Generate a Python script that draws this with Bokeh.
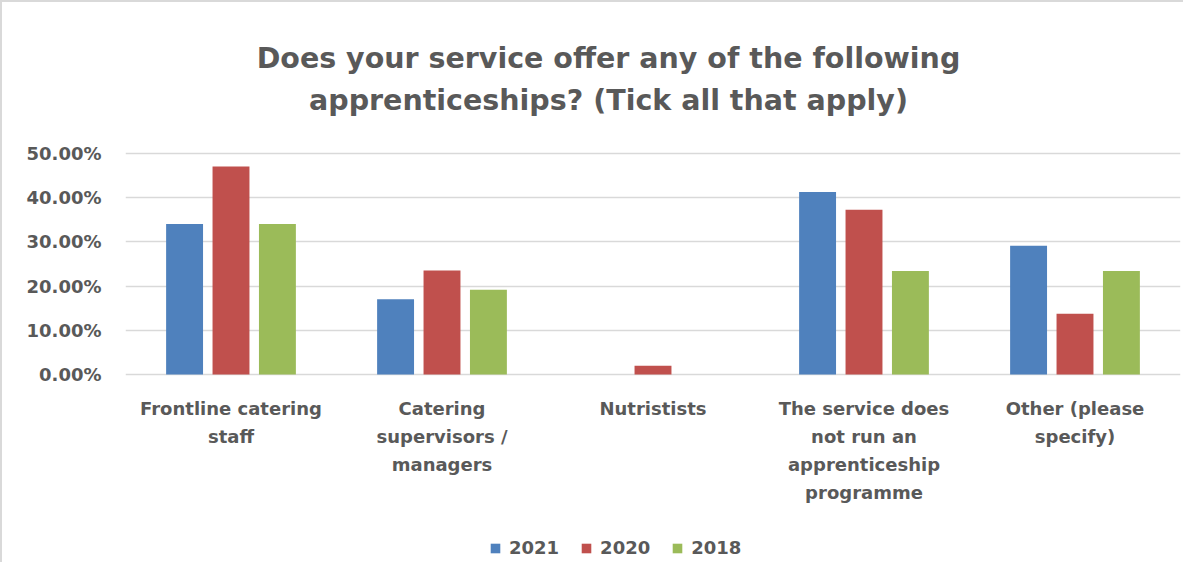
from bokeh.plotting import figure
from bokeh.models import (ColumnDataSource, FactorRange, Range1d, NumeralTickFormatter,
                          Legend, LegendItem, FixedTicker)
from bokeh.core.properties import value
from bokeh.transform import dodge
from bokeh.embed import file_html
from bokeh.resources import INLINE

categories = ["Frontline catering\nstaff", "Catering\nsupervisors /\nmanagers", "Nutristists",
              "The service does\nnot run an\napprenticeship\nprogramme", "Other (please\nspecify)"]
v2021 = [0.3404, 0.1702, 0.0, 0.4128, 0.2915]
v2020 = [0.4706, 0.2353, 0.0196, 0.3725, 0.1373]
v2018 = [0.3404, 0.1915, 0.0, 0.2340, 0.2340]
series = ["2021", "2020", "2018"]
colors = ["#4f81bd", "#c0504d", "#9bbb59"]
y_ticks = [0.0, 0.1, 0.2, 0.3, 0.4, 0.5]
title_lines = ["Does your service offer any of the following",
               "apprenticeships? (Tick all that apply)"]

FONT = "DejaVu Sans"
TXT = "#595959"

# layout constants (pixels -> data units along y: 0.1 per 44.2 px)
PX = 0.1 / 44.2
Y_TOP = 372 * PX        # frame top, above the 50% line
Y_BOT = -190 * PX       # frame bottom, below the axis line

src = ColumnDataSource(dict(cat=categories, y2021=v2021, y2020=v2020, y2018=v2018))

p = figure(x_range=FactorRange(*categories), y_range=Range1d(Y_BOT, Y_TOP),
           width=1183, height=562, output_backend="svg", toolbar_location=None,
           min_border_left=123, min_border_right=5, min_border_top=0, min_border_bottom=0)
p.styles = {"border-left": "2px solid #d9d9d9", "border-top": "2px solid #d9d9d9"}
p.outline_line_color = None
p.background_fill_color = "white"
p.border_fill_color = "white"
p.x_range.range_padding = 0

renderers = []
for key, off, col in zip(["y2021", "y2020", "y2018"], [-0.22, 0.0, 0.22], colors):
    r = p.vbar(x=dodge("cat", off, range=p.x_range), top=key, width=0.175, source=src,
               fill_color=col, line_color=None)
    renderers.append(r)

p.xaxis.visible = False
p.xgrid.grid_line_color = None
p.yaxis.ticker = FixedTicker(ticks=y_ticks)
p.ygrid.ticker = FixedTicker(ticks=y_ticks)
p.ygrid.grid_line_color = "#d9d9d9"
p.ygrid.grid_line_width = 1.5
p.yaxis.formatter = NumeralTickFormatter(format="0.00%")
p.yaxis.axis_line_color = None
p.yaxis.major_tick_line_color = None
p.yaxis.minor_tick_line_color = None
p.yaxis.major_tick_out = 0
p.yaxis.major_tick_in = 0
p.yaxis.major_label_text_font = FONT
p.yaxis.major_label_text_font_style = "bold"
p.yaxis.major_label_text_color = TXT
p.yaxis.major_label_text_font_size = "18px"
p.yaxis.major_label_standoff = 24

# category labels (multi-line, centred under each group)
lx, ly, lt = [], [], []
for c in categories:
    for i, line in enumerate(c.split("\n")):
        lx.append(c)
        ly.append(-34 * PX - i * 28 * PX)
        lt.append(line)
p.text(x=lx, y=ly, text=lt, text_align="center", text_baseline="alphabetic",
       text_font=value(FONT), text_font_style="bold", text_font_size="18px", text_color=TXT)

# chart title (two lines)
p.text(x=[2.289, 2.289], y=[316 * PX, 274 * PX], text=title_lines,
       text_align="center", text_baseline="alphabetic",
       text_font=value(FONT), text_font_style="bold", text_font_size="28.5px", text_color=TXT)

legend = Legend(items=[LegendItem(label=s, renderers=[r]) for s, r in zip(series, renderers)],
                orientation="horizontal", location=(364, 6))
legend.glyph_width = 12
legend.glyph_height = 12
legend.label_height = 20
legend.label_standoff = 8
legend.spacing = 21
legend.padding = 0
legend.margin = 0
legend.border_line_color = None
legend.background_fill_alpha = 0
legend.label_text_font = FONT
legend.label_text_font_style = "bold"
legend.label_text_font_size = "18px"
legend.label_text_color = TXT
p.add_layout(legend)

open("out.html", "w").write(file_html(p, INLINE))
